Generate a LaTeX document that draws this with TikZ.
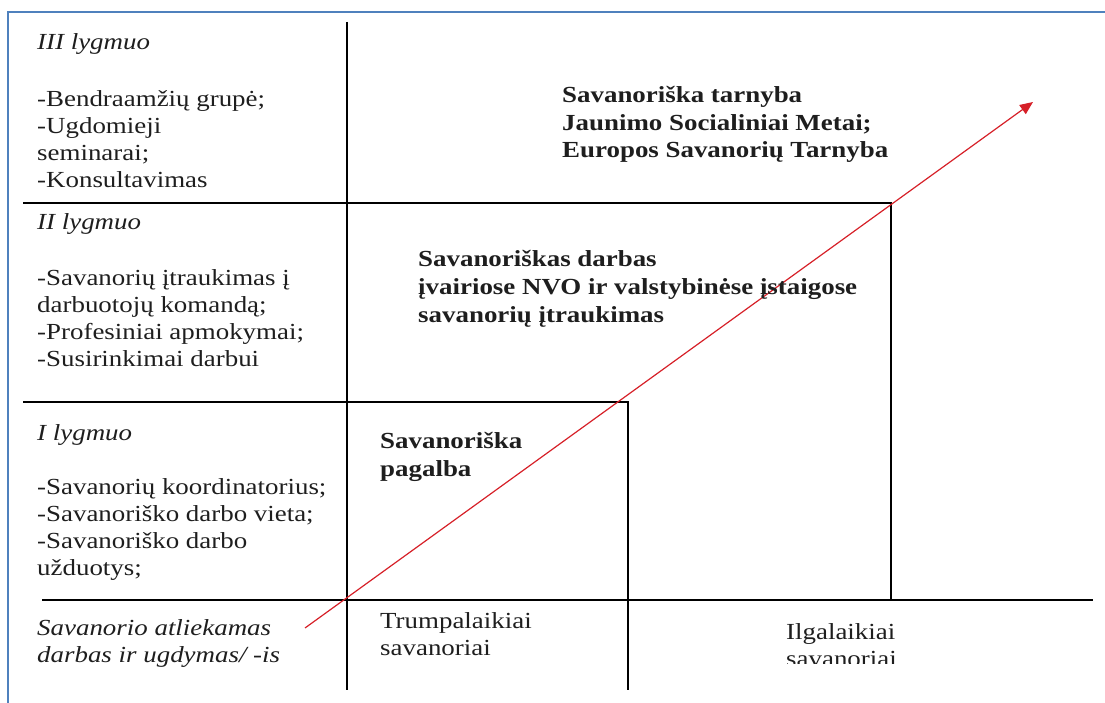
\documentclass[tikz,border=0pt]{standalone}
\usepackage{fontspec}
\setmainfont{Liberation Serif}[FakeStretch=1.17]
\usetikzlibrary{arrows.meta}
\definecolor{frameblue}{RGB}{79,129,189}
\definecolor{arrowred}{RGB}{214,32,40}
\definecolor{textgray}{RGB}{30,30,30}

\begin{document}
\begin{tikzpicture}[x=1pt,y=-1pt]
\tikzstyle{every node}+=[inner sep=0pt, anchor=base west, align=left, text=textgray, font=\fontsize{23}{27}\selectfont]
\tikzstyle{gridline}=[black, line width=1.3pt]
\tikzstyle{boldtext}=[font=\fontsize{23}{27.5}\selectfont\bfseries]
\useasboundingbox (0,0) rectangle (1105,703);
\draw [frameblue, line width=2pt] (8,703) -- (8,12) -- (1105,12);
\coordinate (axtop) at (347,22);
\coordinate (axbot) at (347,690);
\coordinate (axleft) at (42,600);
\coordinate (axright) at (1093,600);
\coordinate (lvlthree) at (23,203);
\coordinate (lvlthreeend) at (891,203);
\coordinate (lvltwo) at (23,402);
\coordinate (lvltwoend) at (628,402);
\coordinate (shortbot) at (628,690);
\coordinate (longbot) at (891,600);
\coordinate (arrstart) at (305,628);
\coordinate (arrtip) at (1033,102);
\draw [gridline] (axtop) -- (axbot);
\draw [gridline] (axleft) -- (axright);
\draw [gridline] (lvlthree) -- (lvlthreeend) -- (longbot);
\draw [gridline] (lvltwo) -- (lvltwoend) -- (shortbot);
\draw [arrowred, line width=1.2pt, -{Triangle[length=13pt,width=11pt]}] (arrstart) -- (arrtip);
\node (lvlIIIhead) at (37,50) {\itshape III lygmuo};
\node (lvlIIIlist) at (37,188) {-Bendraamžių grupė;\\-Ugdomieji\\seminarai;\\-Konsultavimas};
\node (lvlIIhead) at (37,230) {\itshape II lygmuo};
\node (lvlIIlist) at (37,366) {-Savanorių įtraukimas į\\darbuotojų komandą;\\-Profesiniai apmokymai;\\-Susirinkimai darbui};
\node (lvlIhead) at (37,440) {\itshape I lygmuo};
\node (lvlIlist) at (37,575) {-Savanorių koordinatorius;\\-Savanoriško darbo vieta;\\-Savanoriško darbo\\užduotys;};
\node [font=\fontsize{23}{27}\selectfont\itshape] (axislabel) at (37,662) {Savanorio atliekamas\\darbas ir ugdymas/ -is};
\node [boldtext] (tarnyba) at (562,158) {Savanoriška tarnyba\\Jaunimo Socialiniai Metai;\\Europos Savanorių Tarnyba};
\node [boldtext] (darbas) at (418,322) {Savanoriškas darbas\\įvairiose NVO ir valstybinėse įstaigose\\savanorių įtraukimas};
\node [boldtext] (pagalba) at (380,476) {Savanoriška\\pagalba};
\node (trumpalaikiai) at (380,655) {Trumpalaikiai\\savanoriai};
\begin{scope}
\clip (700,610) rectangle (1000,663);
\node (ilgalaikiai) at (786,666) {Ilgalaikiai\\savanoriai};
\end{scope}
\end{tikzpicture}
\end{document}
